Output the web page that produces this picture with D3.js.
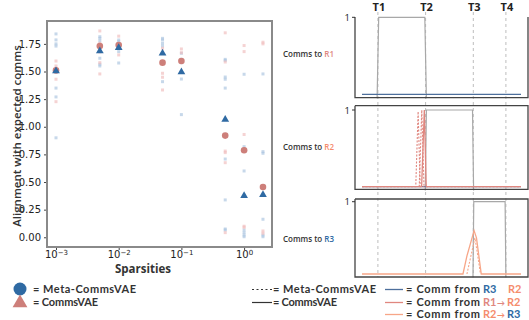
<!DOCTYPE html>
<html>
<head>
<meta charset="utf-8">
<script src="https://cdn.jsdelivr.net/npm/d3@7"></script>
<style>
  body { margin: 0; background: #fff; }
  svg { display: block; }
  text { font-family: "Open Sans", sans-serif; }
  .tick text { font-family: "DejaVu Sans", sans-serif; }
  .legend text { font-family: Lato, sans-serif; }
</style>
</head>
<body>
<script>
var width = 529
var height = 320

// scatter data (left panel)
var sparsities = [0.001, 0.005, 0.01, 0.05, 0.1, 0.5, 1, 2]
var metaMean = [1.51, 1.69, 1.72, 1.67, 1.50, 1.07, 0.38, 0.39]
var vaeMean = [1.51, 1.73, 1.74, 1.58, 1.595, 0.92, 0.787, 0.455]
var metaRuns = [
  [1.84, 1.786, 1.75, 1.73, 1.35, 1.27, 0.90],
  [1.815, 1.80, 1.776, 1.73, 1.62, 1.566, 1.55],
  [1.785, 1.77, 1.73, 1.68, 1.577],
  [1.80, 1.786, 1.755, 1.73, 1.408],
  [1.665, 1.61, 1.58, 1.432, 1.11],
  [1.61, 1.60, 1.45, 1.43, 1.35, 0.708, 0.338, 0.075, 0.066],
  [1.475, 0.82, 0.60, 0.066, 0.042, 0.02, 0.005],
  [1.478, 0.775, 0.76, 0.163, 0.02, 0.005]
]
var vaeRuns = [
  [1.595, 1.55, 1.43, 1.227],
  [1.867, 1.755, 1.677, 1.58, 1.478],
  [1.82, 1.65],
  [1.71, 1.484, 1.448, 1.333],
  [1.704, 1.67],
  [1.85, 1.586, 0.78, 0.766, 0.675, 0.042],
  [1.735, 1.68, 0.93, 0.10, 0.09],
  [1.765, 1.75, 0.057, 0.036]
]
var yTicks = [0, 0.25, 0.5, 0.75, 1.0, 1.25, 1.5, 1.75]
var xTicks = [0.001, 0.01, 0.1, 1]

// time-course data (right panels)
var timeLabels = ["T1", "T2", "T3", "T4"]
var timeMarks = [10, 40, 70, 90.5]
var panelNames = ["R1", "R2", "R3"]
var expected = [
  [[9.5, -0.05], [10.5, 1], [39.5, 1], [40.5, -0.05]],
  [[39.8, -0.05], [40.5, 1], [69.5, 1], [70.2, -0.05]],
  [[69.8, -0.05], [70.3, 1], [90, 1], [90.5, -0.05]]
]
var fromR3 = [
  [[0, 0], [100, 0]],
  [[0, 0], [100, 0]],
  []
]
var r1r2Solid = [[], [[0, 0], [37.5, 0], [39.2, 1.0], [40.4, 0], [100, 0]], []]
var r1r2Dashed = [
  [],
  [[0, 0], [33.8, 0], [35.3, 0.98], [36.6, 0], [100, 0]],
  []
]
var r1r2Dashed2 = [[], [[36, 0], [37.6, 1.0], [39, 0]], []]
var r2r3Solid = [[], [], [[0, 0], [63.5, 0], [66, 0.25], [70.5, 0.6], [72, 0.5], [75, 0], [100, 0]]]
var r2r3Dashed = [[], [], [[66, 0], [69, 0.3], [71, 0.5], [72.5, 0.3], [74.5, 0]]]

var blue = "#2f6aa3"
var red = "#cd7f7a"
var r1Col = "#e0877f"
var r2Col = "#f7a688"
var r2Text = "#f58c6c"

var svg = d3.select("body")
  .append("svg")
  .attr("width", width)
  .attr("height", height)

// ---------- left scatter ----------
var frame = {left: 47, right: 272, top: 21, bottom: 247}

var x = d3.scaleLog()
  .domain([Math.pow(10, -3.1435), Math.pow(10, 0.445)])
  .range([frame.left, frame.right])
var y = d3.scaleLinear()
  .domain([-0.088, 1.957])
  .range([frame.bottom, frame.top])

var runs = []
sparsities.forEach(function(s, i){
  metaRuns[i].forEach(function(v){ runs.push({s: s, v: v, c: "#a9c3de"}) })
  vaeRuns[i].forEach(function(v){ runs.push({s: s, v: v, c: "#f0bcbc"}) })
})

svg.append("g").selectAll("rect.run")
  .data(runs)
  .enter()
  .append("rect")
  .classed("run", true)
  .attr("x", function(d){ return x(d.s) - 1.5 })
  .attr("y", function(d){ return y(d.v) - 1.5 })
  .attr("width", 3)
  .attr("height", 3)
  .attr("fill", function(d){ return d.c })
  .attr("opacity", 0.65)

svg.append("g").selectAll("circle")
  .data(sparsities)
  .enter()
  .append("circle")
  .attr("cx", function(d){ return x(d) })
  .attr("cy", function(d, i){ return y(vaeMean[i]) })
  .attr("r", 3.3)
  .attr("fill", red)

svg.append("g").selectAll("path")
  .data(sparsities)
  .enter()
  .append("path")
  .attr("d", d3.symbol().type(d3.symbolTriangle).size(26))
  .attr("transform", function(d, i){ return "translate(" + x(d) + "," + (y(metaMean[i]) + 0.5) + ")" })
  .attr("fill", blue)

var yAxis = svg.append("g")
  .attr("transform", "translate(" + frame.left + ",0)")
  .call(d3.axisLeft(y).tickValues(yTicks).tickFormat(d3.format(".2f")).tickSize(3))
yAxis.select(".domain").remove()
yAxis.selectAll("text").attr("font-size", 10).attr("fill", "#222")
yAxis.selectAll("line").attr("stroke", "#444")

var xAxis = svg.append("g")
  .attr("transform", "translate(0," + frame.bottom + ")")
  .call(d3.axisBottom(x).tickValues(xTicks).tickSize(3).tickFormat(function(){ return "" }))
xAxis.select(".domain").remove()
xAxis.selectAll("line").attr("stroke", "#444")
xAxis.selectAll(".tick text").each(function(d){
  var t = d3.select(this).attr("font-size", 10).attr("fill", "#222").attr("dy", "0.5em")
  t.append("tspan").text("10")
  t.append("tspan").attr("dy", "-0.45em").attr("font-size", 7)
    .text(String(Math.round(Math.log10(d))).replace("-", "\u2212"))
})

svg.append("rect")
  .attr("x", frame.left)
  .attr("y", frame.top)
  .attr("width", frame.right - frame.left)
  .attr("height", frame.bottom - frame.top)
  .attr("fill", "none")
  .attr("stroke", "#8a8a8a")
  .attr("stroke-width", 2)

svg.append("text")
  .attr("transform", "translate(21," + ((frame.top + frame.bottom) / 2 + 2) + ") rotate(-90)")
  .attr("text-anchor", "middle")
  .attr("font-size", 11.5)
  .attr("font-weight", 600)
  .attr("fill", "#333")
  .text("Alignment with expected comms")

svg.append("text")
  .attr("x", 143)
  .attr("y", 272.5)
  .attr("text-anchor", "middle")
  .attr("font-size", 11.5)
  .attr("font-weight", 700)
  .attr("fill", "#333")
  .text("Sparsities")

// ---------- right panels ----------
var px = d3.scaleLinear().domain([0, 100]).range([362, 521])
var panels = [
  {top: 17, bottom: 97.7, one: 17.3, zero: 94.3, label: 57},
  {top: 105.7, bottom: 189.3, one: 110, zero: 186.7, label: 150},
  {top: 199, bottom: 277, one: 201.7, zero: 274, label: 242}
]
var nameCols = [r1Col, r2Text, blue]

svg.append("g").selectAll("line")
  .data(timeMarks)
  .enter()
  .append("line")
  .attr("x1", function(d){ return px(d) })
  .attr("x2", function(d){ return px(d) })
  .attr("y1", 12)
  .attr("y2", 277)
  .attr("stroke", "#bdbdbd")
  .attr("stroke-width", 1)
  .attr("stroke-dasharray", "3,3")

svg.append("g").selectAll("text")
  .data(timeLabels)
  .enter()
  .append("text")
  .attr("x", function(d, i){ return px(timeMarks[i]) + 1 })
  .attr("y", 11)
  .attr("text-anchor", "middle")
  .attr("font-size", 11)
  .attr("font-weight", 700)
  .attr("fill", "#222")
  .text(function(d){ return d })

panels.forEach(function(p, i){
  var py = d3.scaleLinear().domain([0, 1]).range([p.zero, p.one])
  var line = d3.line().x(function(d){ return px(d[0]) }).y(function(d){ return py(d[1]) })
  var g = svg.append("g")

  g.append("path").attr("d", line(expected[i]))
    .attr("fill", "none").attr("stroke", "#a8a8a8").attr("stroke-width", 1.2)
  if (fromR3[i].length)
    g.append("path").attr("d", line(fromR3[i]))
      .attr("fill", "none").attr("stroke", "#4d6f9c").attr("stroke-width", 1.2)
  if (r1r2Dashed[i].length) {
    g.append("path").attr("d", line(r1r2Dashed[i]))
      .attr("fill", "none").attr("stroke", r1Col).attr("stroke-width", 1.1).attr("stroke-dasharray", "2,1.5")
    g.append("path").attr("d", line(r1r2Dashed2[i]))
      .attr("fill", "none").attr("stroke", r1Col).attr("stroke-width", 1.1).attr("stroke-dasharray", "2,1.5")
  }
  if (r1r2Solid[i].length)
    g.append("path").attr("d", line(r1r2Solid[i]))
      .attr("fill", "none").attr("stroke", r1Col).attr("stroke-width", 1.3)
  if (r2r3Solid[i].length) {
    g.append("path").attr("d", line(r2r3Dashed[i]))
      .attr("fill", "none").attr("stroke", r2Col).attr("stroke-width", 1.1).attr("stroke-dasharray", "2,1.5")
    g.append("path").attr("d", line(r2r3Solid[i]))
      .attr("fill", "none").attr("stroke", r2Col).attr("stroke-width", 1.3)
  }

  // frame (first panel has no top edge showing)
  var fr = "M355," + p.top + "V" + p.bottom + "H528V" + p.top
  if (i > 0) fr += "H355"
  g.append("path").attr("d", fr)
    .attr("fill", "none").attr("stroke", "#444").attr("stroke-width", 1.3)

  g.append("line").attr("x1", 352).attr("x2", 355).attr("y1", p.one).attr("y2", p.one)
    .attr("stroke", "#333")
  g.append("text").attr("x", 350).attr("y", p.one + 3.5)
    .attr("text-anchor", "end").attr("font-size", 9.5).attr("fill", "#222").text("1")

  var lab = g.append("text").attr("x", 283).attr("y", p.label)
    .attr("font-size", 8).attr("font-weight", 600).attr("fill", "#333")
  lab.append("tspan").text("Comms to ")
  lab.append("tspan").attr("fill", nameCols[i]).text(panelNames[i])
})

// ---------- legends ----------
var lg = svg.append("g").classed("legend", true)
  .attr("font-size", 11).attr("font-weight", 700).attr("fill", "#333")

lg.append("circle").attr("cx", 20).attr("cy", 289).attr("r", 6.5).attr("fill", blue)
lg.append("path").attr("d", d3.symbol().type(d3.symbolTriangle).size(95))
  .attr("transform", "translate(20,303)").attr("fill", red)
lg.append("text").attr("x", 33).attr("y", 293).attr("textLength", 103).text("= Meta-CommsVAE")
lg.append("text").attr("x", 33).attr("y", 306).attr("textLength", 65).text("= CommsVAE")

lg.append("line").attr("x1", 252).attr("x2", 272).attr("y1", 289.5).attr("y2", 289.5)
  .attr("stroke", "#333").attr("stroke-width", 1).attr("stroke-dasharray", "2,2.5")
lg.append("line").attr("x1", 252).attr("x2", 272).attr("y1", 302.5).attr("y2", 302.5)
  .attr("stroke", "#333").attr("stroke-width", 1.2)
lg.append("text").attr("x", 273).attr("y", 293).attr("textLength", 103).text("= Meta-CommsVAE")
lg.append("text").attr("x", 273).attr("y", 306).attr("textLength", 64).text("= CommsVAE")

// each part: text, colour, x position
var lineLeg = [
  {y: 289.5, c: "#4d6f9c", parts: [["R3", blue, 483], ["R2", r2Text, 508]]},
  {y: 302.5, c: r1Col, parts: [["R1", r1Col, 483], ["\u2192", r1Col, 497], ["R2", r2Text, 507]]},
  {y: 314.5, c: r2Col, parts: [["R2", r2Text, 483], ["\u2192", r2Text, 497], ["R3", blue, 507]]}
]
lineLeg.forEach(function(d){
  lg.append("line").attr("x1", 385).attr("x2", 403).attr("y1", d.y).attr("y2", d.y)
    .attr("stroke", d.c).attr("stroke-width", 1.3)
  lg.append("text").attr("x", 406).attr("y", d.y + 3.5).attr("textLength", 74).text("= Comm from")
  d.parts.forEach(function(p){
    var t = lg.append("text").attr("x", p[2]).attr("y", d.y + 3.5).attr("fill", p[1]).text(p[0])
    if (p[0] === "\u2192") t.attr("font-size", 8).attr("y", d.y + 3)
  })
})
</script>
</body>
</html>
